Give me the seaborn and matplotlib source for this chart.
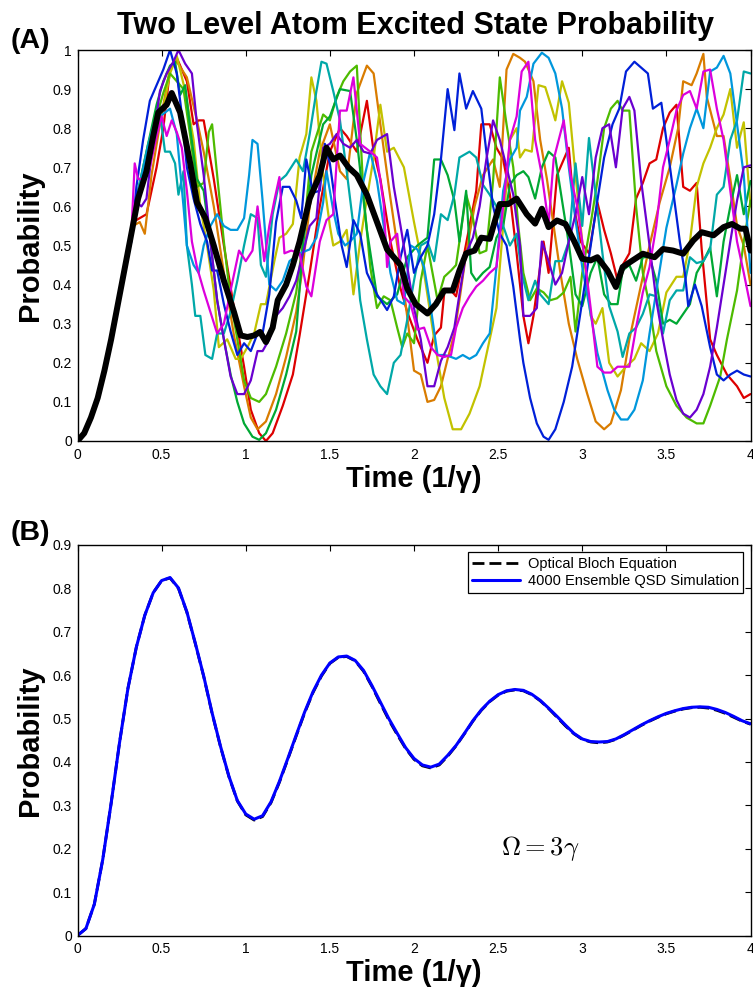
import matplotlib
matplotlib.use("Agg")
import matplotlib.pyplot as plt
import pandas as pd
import seaborn as sns

# ---------------- Panel A data ----------------
start_t = [0.00, 0.04, 0.08, 0.12, 0.16, 0.20, 0.24, 0.28]
start_p = [0.00, 0.02, 0.06, 0.11, 0.18, 0.26, 0.35, 0.44]

red_t = [0.32,0.33,0.37,0.41,0.47,0.51,0.55,0.59,0.65,0.69,0.72,0.75,0.81,0.87,0.93,0.99,1.03,1.08,1.12,1.16,1.22,1.28,1.32,1.38,1.44,1.50,1.56,1.60,1.66,1.72,1.76,1.80,1.86,1.92,1.96,2.02,2.08,2.12,2.16,2.18,2.22,2.25,2.29,2.33,2.37,2.40,2.45,2.49,2.53,2.57,2.61,2.65,2.68,2.71,2.77,2.80,2.85,2.89,2.92,2.95,2.99,3.04,3.09,3.13,3.17,3.21,3.24,3.28,3.32,3.36,3.40,3.44,3.48,3.52,3.56,3.60,3.64,3.68,3.71,3.76,3.80,3.86,3.92,3.96,4.00]
red_p = [0.53,0.56,0.57,0.58,0.70,0.80,0.95,0.98,0.92,0.81,0.82,0.82,0.67,0.50,0.34,0.19,0.08,0.02,0.00,0.02,0.09,0.17,0.27,0.43,0.60,0.74,0.80,0.78,0.74,0.87,0.74,0.67,0.51,0.39,0.33,0.26,0.20,0.27,0.29,0.38,0.385,0.37,0.46,0.55,0.64,0.81,0.81,0.75,0.72,0.63,0.48,0.32,0.25,0.32,0.51,0.43,0.68,0.72,0.75,0.60,0.51,0.48,0.61,0.54,0.48,0.41,0.45,0.48,0.62,0.66,0.71,0.72,0.80,0.84,0.86,0.65,0.64,0.66,0.49,0.26,0.22,0.17,0.14,0.11,0.12]

orange_t = [0.32,0.33,0.37,0.40,0.44,0.49,0.55,0.59,0.65,0.71,0.75,0.81,0.87,0.93,0.99,1.03,1.07,1.12,1.18,1.24,1.30,1.34,1.38,1.44,1.50,1.56,1.60,1.66,1.72,1.76,1.80,1.86,1.94,2.00,2.04,2.08,2.12,2.16,2.20,2.24,2.27,2.31,2.36,2.41,2.47,2.51,2.55,2.59,2.63,2.66,2.71,2.75,2.79,2.83,2.87,2.92,2.97,3.03,3.08,3.13,3.17,3.23,3.28,3.34,3.40,3.46,3.52,3.57,3.60,3.65,3.68,3.72,3.74,3.80,3.84,3.88,3.92,3.96,4.00]
orange_p = [0.53,0.55,0.56,0.53,0.68,0.81,0.955,0.97,0.93,0.82,0.74,0.60,0.43,0.27,0.14,0.06,0.03,0.05,0.12,0.215,0.33,0.45,0.60,0.74,0.81,0.69,0.67,0.89,0.96,0.94,0.81,0.62,0.385,0.18,0.17,0.10,0.105,0.14,0.21,0.275,0.36,0.48,0.60,0.68,0.72,0.65,0.95,0.99,0.98,0.97,0.92,0.77,0.67,0.55,0.43,0.30,0.21,0.12,0.05,0.03,0.045,0.13,0.26,0.38,0.50,0.61,0.70,0.80,0.92,0.91,0.94,0.99,0.88,0.78,0.78,0.67,0.55,0.50,0.40]

yellow_t = [0.32,0.36,0.42,0.47,0.51,0.55,0.59,0.64,0.69,0.73,0.77,0.81,0.84,0.89,0.94,0.97,1.01,1.05,1.09,1.12,1.17,1.20,1.24,1.28,1.32,1.36,1.39,1.42,1.46,1.50,1.52,1.56,1.60,1.64,1.68,1.72,1.76,1.80,1.84,1.88,1.94,2.00,2.06,2.12,2.18,2.23,2.28,2.33,2.39,2.45,2.49,2.53,2.57,2.61,2.63,2.66,2.70,2.74,2.78,2.82,2.84,2.88,2.92,2.96,3.00,3.05,3.08,3.12,3.16,3.21,3.26,3.31,3.35,3.40,3.45,3.50,3.56,3.60,3.64,3.68,3.72,3.76,3.80,3.84,3.88,3.92,3.96,4.00]
yellow_p = [0.53,0.62,0.72,0.80,0.85,0.94,0.985,0.895,0.77,0.60,0.50,0.385,0.24,0.26,0.21,0.21,0.24,0.275,0.35,0.35,0.46,0.52,0.53,0.555,0.725,0.785,0.93,0.87,0.68,0.55,0.50,0.51,0.54,0.375,0.51,0.62,0.725,0.86,0.74,0.75,0.70,0.56,0.43,0.26,0.11,0.03,0.03,0.07,0.14,0.26,0.34,0.55,0.77,0.80,0.725,0.745,0.74,0.91,0.905,0.85,0.82,0.92,0.865,0.68,0.51,0.32,0.30,0.34,0.20,0.165,0.19,0.21,0.25,0.23,0.275,0.38,0.42,0.42,0.51,0.65,0.71,0.75,0.80,0.835,0.90,0.75,0.815,0.60]

lime_t = [0.32,0.36,0.42,0.47,0.51,0.55,0.59,0.63,0.67,0.71,0.75,0.78,0.80,0.83,0.87,0.91,0.95,0.99,1.03,1.08,1.12,1.18,1.24,1.30,1.34,1.39,1.46,1.50,1.54,1.58,1.62,1.66,1.70,1.74,1.78,1.82,1.86,1.90,1.93,1.96,2.00,2.04,2.08,2.14,2.18,2.22,2.25,2.31,2.35,2.39,2.43,2.47,2.51,2.55,2.59,2.62,2.65,2.69,2.73,2.77,2.81,2.85,2.89,2.93,2.96,3.00,3.05,3.09,3.13,3.17,3.21,3.24,3.28,3.32,3.36,3.40,3.44,3.50,3.56,3.62,3.68,3.72,3.76,3.82,3.86,3.92,3.96,4.00]
lime_p = [0.53,0.63,0.74,0.83,0.89,0.94,0.92,0.90,0.78,0.65,0.66,0.79,0.81,0.68,0.51,0.36,0.26,0.155,0.11,0.10,0.12,0.19,0.275,0.38,0.51,0.74,0.835,0.82,0.88,0.92,0.945,0.96,0.63,0.445,0.34,0.37,0.36,0.29,0.24,0.275,0.25,0.41,0.50,0.36,0.42,0.436,0.45,0.63,0.57,0.48,0.487,0.665,0.93,0.81,0.70,0.55,0.43,0.36,0.39,0.38,0.36,0.365,0.38,0.42,0.28,0.43,0.555,0.665,0.80,0.85,0.87,0.845,0.845,0.60,0.43,0.345,0.23,0.14,0.09,0.06,0.045,0.045,0.09,0.165,0.26,0.385,0.51,0.615]

green_t = [0.32,0.36,0.42,0.47,0.51,0.55,0.58,0.61,0.64,0.67,0.71,0.75,0.79,0.83,0.87,0.91,0.95,0.99,1.04,1.08,1.12,1.18,1.24,1.30,1.34,1.39,1.46,1.50,1.56,1.62,1.66,1.72,1.78,1.84,1.90,1.96,2.02,2.08,2.12,2.16,2.20,2.24,2.27,2.31,2.34,2.37,2.41,2.45,2.49,2.53,2.57,2.61,2.65,2.68,2.72,2.76,2.80,2.84,2.88,2.92,2.96,3.00,3.05,3.09,3.13,3.17,3.21,3.24,3.28,3.32,3.36,3.40,3.44,3.48,3.52,3.56,3.60,3.64,3.68,3.72,3.76,3.80,3.84,3.88,3.92,3.96,4.00]
green_p = [0.53,0.64,0.76,0.86,0.92,0.96,0.97,0.885,0.91,0.80,0.67,0.64,0.51,0.36,0.26,0.17,0.10,0.045,0.011,0.003,0.02,0.08,0.17,0.28,0.50,0.68,0.81,0.83,0.90,0.895,0.77,0.54,0.37,0.35,0.375,0.47,0.50,0.52,0.72,0.72,0.68,0.615,0.51,0.64,0.43,0.41,0.43,0.445,0.52,0.55,0.655,0.68,0.69,0.675,0.62,0.70,0.74,0.725,0.615,0.505,0.375,0.345,0.43,0.47,0.375,0.35,0.35,0.436,0.45,0.41,0.47,0.47,0.41,0.30,0.31,0.30,0.325,0.35,0.43,0.46,0.495,0.37,0.51,0.60,0.68,0.58,0.665]

teal_t = [0.32,0.36,0.42,0.46,0.49,0.52,0.55,0.58,0.60,0.63,0.65,0.68,0.70,0.73,0.76,0.80,0.83,0.87,0.91,0.95,0.99,1.03,1.07,1.09,1.12,1.16,1.20,1.24,1.30,1.34,1.38,1.42,1.45,1.48,1.52,1.56,1.60,1.64,1.68,1.72,1.76,1.80,1.84,1.88,1.92,1.96,2.00,2.04,2.08,2.12,2.16,2.20,2.24,2.27,2.33,2.37,2.41,2.45,2.49,2.53,2.57,2.61,2.64,2.68,2.72,2.75,2.80,2.84,2.88,2.92,2.96,3.00,3.04,3.08,3.12,3.16,3.21,3.24,3.28,3.32,3.36,3.40,3.44,3.48,3.52,3.56,3.60,3.64,3.68,3.72,3.76,3.80,3.84,3.88,3.92,3.96,4.00]
teal_p = [0.53,0.64,0.76,0.82,0.84,0.74,0.74,0.71,0.63,0.69,0.50,0.40,0.32,0.32,0.22,0.21,0.275,0.275,0.33,0.41,0.50,0.58,0.57,0.45,0.42,0.58,0.665,0.68,0.72,0.69,0.785,0.895,0.97,0.965,0.895,0.82,0.69,0.55,0.36,0.26,0.17,0.14,0.12,0.20,0.22,0.31,0.41,0.50,0.51,0.46,0.58,0.565,0.63,0.725,0.74,0.725,0.655,0.63,0.60,0.55,0.50,0.53,0.43,0.36,0.41,0.375,0.35,0.46,0.46,0.51,0.71,0.55,0.775,0.63,0.48,0.345,0.28,0.215,0.275,0.29,0.325,0.375,0.37,0.275,0.36,0.385,0.385,0.47,0.455,0.46,0.49,0.63,0.65,0.77,0.82,0.945,0.94]

sky_t = [0.32,0.36,0.42,0.46,0.49,0.55,0.59,0.63,0.65,0.69,0.72,0.75,0.79,0.83,0.87,0.91,0.95,0.99,1.02,1.04,1.07,1.10,1.14,1.18,1.22,1.26,1.32,1.38,1.42,1.46,1.48,1.52,1.55,1.59,1.62,1.66,1.70,1.74,1.78,1.82,1.86,1.90,1.94,1.98,2.02,2.06,2.10,2.14,2.18,2.22,2.25,2.29,2.33,2.37,2.41,2.45,2.49,2.53,2.57,2.61,2.63,2.67,2.71,2.76,2.80,2.84,2.88,2.92,2.96,3.00,3.05,3.09,3.15,3.19,3.23,3.27,3.31,3.36,3.40,3.45,3.50,3.56,3.60,3.64,3.68,3.72,3.76,3.80,3.84,3.88,3.92,3.96,4.00]
sky_p = [0.53,0.63,0.75,0.80,0.83,0.85,0.785,0.60,0.50,0.45,0.43,0.50,0.55,0.58,0.55,0.54,0.54,0.57,0.68,0.77,0.76,0.615,0.40,0.385,0.41,0.46,0.48,0.49,0.52,0.61,0.69,0.59,0.53,0.50,0.51,0.53,0.665,0.74,0.665,0.55,0.43,0.36,0.35,0.50,0.49,0.445,0.34,0.22,0.22,0.215,0.21,0.22,0.21,0.22,0.25,0.275,0.445,0.64,0.72,0.75,0.845,0.88,0.965,0.993,0.98,0.94,0.85,0.70,0.565,0.445,0.325,0.225,0.13,0.08,0.055,0.055,0.08,0.155,0.275,0.41,0.545,0.655,0.735,0.80,0.85,0.80,0.945,0.955,0.985,0.94,0.81,0.68,0.43]

blue_t = [0.32,0.35,0.39,0.43,0.47,0.51,0.55,0.59,0.62,0.65,0.69,0.73,0.77,0.80,0.83,0.87,0.91,0.95,0.99,1.03,1.07,1.10,1.14,1.18,1.22,1.26,1.30,1.33,1.36,1.40,1.44,1.47,1.50,1.53,1.57,1.60,1.64,1.68,1.72,1.78,1.84,1.88,1.92,1.96,2.00,2.04,2.08,2.12,2.16,2.20,2.24,2.27,2.31,2.35,2.40,2.43,2.47,2.51,2.55,2.59,2.63,2.65,2.69,2.73,2.77,2.80,2.84,2.89,2.94,2.99,3.04,3.09,3.13,3.18,3.22,3.26,3.31,3.35,3.39,3.42,3.47,3.50,3.54,3.58,3.61,3.63,3.67,3.71,3.76,3.80,3.84,3.88,3.92,3.96,4.00]
blue_p = [0.51,0.65,0.77,0.87,0.91,0.95,1.00,0.94,0.835,0.70,0.62,0.555,0.51,0.436,0.436,0.35,0.28,0.22,0.25,0.23,0.275,0.275,0.375,0.56,0.65,0.65,0.615,0.57,0.72,0.635,0.64,0.76,0.71,0.615,0.50,0.445,0.565,0.53,0.43,0.375,0.335,0.37,0.47,0.54,0.43,0.47,0.50,0.58,0.72,0.90,0.795,0.94,0.85,0.895,0.85,0.74,0.60,0.53,0.50,0.395,0.26,0.20,0.11,0.045,0.011,0.003,0.03,0.10,0.19,0.33,0.47,0.615,0.725,0.81,0.85,0.945,0.97,0.955,0.94,0.85,0.865,0.77,0.64,0.51,0.43,0.345,0.40,0.345,0.24,0.17,0.155,0.17,0.18,0.17,0.165]

purple_t = [0.32,0.35,0.38,0.41,0.45,0.49,0.53,0.57,0.60,0.64,0.68,0.71,0.75,0.79,0.83,0.87,0.91,0.95,0.99,1.03,1.07,1.10,1.14,1.18,1.22,1.26,1.30,1.34,1.38,1.42,1.46,1.50,1.54,1.58,1.62,1.66,1.70,1.74,1.78,1.84,1.88,1.92,1.96,2.00,2.04,2.08,2.12,2.16,2.20,2.24,2.27,2.31,2.35,2.39,2.43,2.47,2.51,2.55,2.59,2.63,2.65,2.69,2.73,2.76,2.80,2.84,2.88,2.92,2.96,3.00,3.04,3.08,3.12,3.16,3.20,3.24,3.28,3.31,3.35,3.40,3.44,3.48,3.52,3.56,3.60,3.64,3.68,3.72,3.76,3.80,3.84,3.88,3.92,3.96,4.00]
purple_p = [0.53,0.61,0.60,0.62,0.77,0.895,0.94,0.97,1.00,0.965,0.94,0.81,0.68,0.51,0.36,0.26,0.165,0.12,0.12,0.155,0.23,0.23,0.26,0.32,0.34,0.37,0.41,0.48,0.55,0.57,0.75,0.76,0.785,0.76,0.75,0.77,0.74,0.735,0.77,0.785,0.65,0.55,0.445,0.34,0.26,0.14,0.14,0.205,0.24,0.29,0.375,0.48,0.52,0.60,0.72,0.82,0.77,0.70,0.63,0.50,0.32,0.32,0.34,0.51,0.46,0.40,0.43,0.51,0.58,0.675,0.58,0.725,0.80,0.81,0.70,0.85,0.88,0.845,0.665,0.50,0.36,0.26,0.17,0.105,0.07,0.06,0.08,0.12,0.19,0.29,0.40,0.51,0.615,0.70,0.705]

magenta_t = [0.32,0.34,0.36,0.39,0.43,0.47,0.50,0.53,0.56,0.59,0.62,0.65,0.68,0.71,0.75,0.79,0.83,0.87,0.91,0.96,1.00,1.04,1.07,1.11,1.14,1.17,1.20,1.23,1.27,1.32,1.36,1.39,1.44,1.48,1.52,1.56,1.60,1.64,1.68,1.74,1.78,1.82,1.84,1.86,1.90,1.94,1.98,2.02,2.06,2.10,2.14,2.18,2.22,2.25,2.29,2.33,2.37,2.41,2.45,2.49,2.53,2.57,2.61,2.64,2.68,2.72,2.76,2.80,2.83,2.86,2.89,2.93,2.97,3.01,3.05,3.09,3.13,3.17,3.21,3.24,3.28,3.32,3.36,3.40,3.44,3.48,3.52,3.56,3.60,3.64,3.68,3.72,3.76,3.80,3.84,3.88,3.92,3.96,4.00]
magenta_p = [0.53,0.71,0.67,0.67,0.70,0.78,0.83,0.78,0.82,0.79,0.75,0.64,0.51,0.445,0.385,0.33,0.275,0.30,0.385,0.487,0.46,0.487,0.60,0.46,0.55,0.615,0.675,0.48,0.487,0.48,0.395,0.37,0.51,0.565,0.58,0.845,0.845,0.93,0.76,0.74,0.725,0.606,0.445,0.51,0.53,0.37,0.35,0.285,0.29,0.24,0.22,0.215,0.22,0.29,0.34,0.37,0.395,0.41,0.43,0.445,0.60,0.77,0.83,0.945,0.97,0.77,0.68,0.555,0.72,0.77,0.82,0.68,0.60,0.48,0.34,0.19,0.175,0.175,0.19,0.19,0.19,0.29,0.38,0.445,0.55,0.70,0.77,0.845,0.885,0.895,0.85,0.945,0.95,0.85,0.77,0.64,0.51,0.43,0.345]

mean_t = [0.00,0.04,0.08,0.12,0.16,0.20,0.24,0.28,0.32,0.36,0.41,0.45,0.48,0.53,0.56,0.61,0.67,0.71,0.76,0.81,0.87,0.93,0.97,1.01,1.05,1.085,1.12,1.16,1.19,1.24,1.28,1.32,1.38,1.44,1.48,1.52,1.56,1.61,1.66,1.72,1.78,1.84,1.92,1.96,2.01,2.08,2.13,2.18,2.23,2.27,2.31,2.36,2.40,2.45,2.51,2.56,2.61,2.67,2.72,2.76,2.80,2.85,2.90,2.95,3.00,3.05,3.09,3.15,3.20,3.24,3.30,3.36,3.43,3.48,3.54,3.60,3.66,3.71,3.78,3.84,3.89,3.94,3.97,4.00]
mean_p = [0.00,0.02,0.06,0.11,0.18,0.26,0.35,0.44,0.53,0.62,0.69,0.78,0.84,0.86,0.89,0.84,0.71,0.61,0.57,0.50,0.41,0.33,0.27,0.266,0.27,0.279,0.253,0.29,0.36,0.40,0.45,0.51,0.62,0.68,0.75,0.72,0.73,0.70,0.68,0.63,0.56,0.49,0.45,0.39,0.35,0.326,0.35,0.385,0.385,0.436,0.48,0.487,0.52,0.517,0.606,0.606,0.62,0.58,0.556,0.594,0.547,0.564,0.555,0.513,0.466,0.462,0.47,0.436,0.394,0.445,0.462,0.479,0.47,0.491,0.487,0.479,0.513,0.534,0.526,0.547,0.555,0.543,0.543,0.487]

# ---------------- Panel B data ----------------
b_time = [0.00,0.05,0.10,0.15,0.20,0.25,0.30,0.35,0.40,0.45,0.50,0.55,0.60,0.65,0.70,0.75,0.80,0.85,0.90,0.95,
          1.00,1.05,1.10,1.15,1.20,1.25,1.30,1.35,1.40,1.45,1.50,1.55,1.60,1.65,1.70,1.75,1.80,1.85,1.90,1.95,
          2.00,2.05,2.10,2.15,2.20,2.25,2.30,2.35,2.40,2.45,2.50,2.55,2.60,2.65,2.70,2.75,2.80,2.85,2.90,2.95,
          3.00,3.05,3.10,3.15,3.20,3.25,3.30,3.35,3.40,3.45,3.50,3.55,3.60,3.65,3.70,3.75,3.80,3.85,3.90,3.95,4.00]
obe_p = [0.000,0.016,0.072,0.175,0.305,0.445,0.570,0.665,0.738,0.790,0.818,0.824,0.800,0.745,0.673,0.597,0.512,0.435,0.366,0.310,
         0.278,0.266,0.274,0.306,0.353,0.406,0.460,0.513,0.560,0.598,0.627,0.641,0.643,0.633,0.609,0.574,0.535,0.497,0.463,0.431,
         0.406,0.391,0.386,0.393,0.413,0.437,0.465,0.494,0.519,0.539,0.554,0.563,0.566,0.564,0.555,0.541,0.523,0.503,0.483,0.465,
         0.452,0.446,0.444,0.446,0.452,0.462,0.473,0.484,0.494,0.503,0.511,0.517,0.522,0.525,0.526,0.524,0.519,0.512,0.503,0.494,0.487]
qsd_p = [0.000,0.016,0.072,0.175,0.305,0.445,0.570,0.665,0.738,0.790,0.818,0.825,0.801,0.746,0.674,0.598,0.513,0.436,0.367,0.311,
         0.280,0.268,0.276,0.308,0.355,0.408,0.462,0.515,0.562,0.600,0.628,0.642,0.644,0.634,0.611,0.576,0.538,0.500,0.466,0.433,
         0.408,0.393,0.388,0.395,0.415,0.438,0.466,0.495,0.520,0.540,0.555,0.564,0.567,0.565,0.556,0.542,0.524,0.505,0.485,0.466,
         0.453,0.447,0.446,0.447,0.453,0.463,0.474,0.485,0.495,0.504,0.512,0.518,0.523,0.526,0.527,0.526,0.521,0.514,0.505,0.495,0.488]

run_names = ["red", "orange", "yellow", "lime", "green", "teal", "sky", "blue", "purple", "magenta"]
run_t = [red_t, orange_t, yellow_t, lime_t, green_t, teal_t, sky_t, blue_t, purple_t, magenta_t]
run_p = [red_p, orange_p, yellow_p, lime_p, green_p, teal_p, sky_p, blue_p, purple_p, magenta_p]
run_colors = {"red": "#dd0000", "orange": "#d97c00", "yellow": "#c2c200", "lime": "#4dbb00",
              "green": "#00a834", "teal": "#00a8a8", "sky": "#0097dc", "blue": "#0020d8",
              "purple": "#6a00d0", "magenta": "#dc00dc"}

# ---------------- style ----------------
sns.set_theme(style="white")
plt.rcParams["font.family"] = ["Liberation Sans", "DejaVu Sans"]
plt.rcParams["mathtext.fontset"] = "cm"
plt.rcParams["axes.edgecolor"] = "black"
plt.rcParams["axes.linewidth"] = 1.0
plt.rcParams["text.color"] = "black"
plt.rcParams["axes.labelcolor"] = "black"
plt.rcParams["xtick.color"] = "black"
plt.rcParams["ytick.color"] = "black"

rows = []
for name, ts, ps in zip(run_names, run_t, run_p):
    n = min(len(ts), len(ps))
    full_t = start_t + list(ts[:n])
    full_p = start_p + list(ps[:n])
    for k, (a, b) in enumerate(zip(full_t, full_p)):
        rows.append({"run": name, "order": k, "t": a, "p": b})
df_runs = pd.DataFrame(rows)
df_mean = pd.DataFrame({"t": mean_t[:len(mean_p)], "p": mean_p[:len(mean_t)]})
df_b = pd.DataFrame({"t": b_time, "obe": obe_p, "qsd": qsd_p})

fig = plt.figure(figsize=(7.53, 9.92), dpi=100)
W, H = 753.0, 992.0
axA = fig.add_axes([77.5 / W, (H - 441) / H, 673 / W, 391 / H])
axB = fig.add_axes([77.5 / W, (H - 935.5) / H, 673 / W, 390.5 / H])

# Panel A
sns.lineplot(data=df_runs, x="t", y="p", hue="run", hue_order=run_names, palette=run_colors,
             units="run", estimator=None, sort=False, legend=False, lw=1.6, ax=axA)
sns.lineplot(data=df_mean, x="t", y="p", color="black", lw=4.3, sort=False,
             estimator=None, ax=axA)

# Panel B
sns.lineplot(data=df_b, x="t", y="obe", color="black", lw=2.0, dashes=False,
             estimator=None, ax=axB, label="Optical Bloch Equation")
axB.lines[-1].set_dashes((4.3, 1.8))
sns.lineplot(data=df_b, x="t", y="qsd", color="#0000ff", lw=2.2,
             estimator=None, ax=axB, label="4000 Ensemble QSD Simulation")

a_yticks = [0, 0.1, 0.2, 0.3, 0.4, 0.5, 0.6, 0.7, 0.8, 0.9, 1.0]
a_ylabels = ["0", "0.1", "0.2", "0.3", "0.4", "0.5", "0.6", "0.7", "0.8", "0.9", "1"]
b_yticks = [0, 0.1, 0.2, 0.3, 0.4, 0.5, 0.6, 0.7, 0.8, 0.9]
b_ylabels = ["0", "0.1", "0.2", "0.3", "0.4", "0.5", "0.6", "0.7", "0.8", "0.9"]
xticks = [0, 0.5, 1, 1.5, 2, 2.5, 3, 3.5, 4]
xlabels = ["0", "0.5", "1", "1.5", "2", "2.5", "3", "3.5", "4"]

for ax, yt, yl, ytop in [(axA, a_yticks, a_ylabels, 1.0), (axB, b_yticks, b_ylabels, 0.9)]:
    ax.set_xlim(0, 4)
    ax.set_ylim(0, ytop)
    ax.set_xticks(xticks)
    ax.set_xticklabels(xlabels)
    ax.set_yticks(yt)
    ax.set_yticklabels(yl)
    ax.tick_params(direction="in", top=True, right=True, length=4.5, width=0.8,
                   labelsize=10, colors="black")
    ax.tick_params(axis="x", pad=5.0)
    ax.tick_params(axis="y", pad=4.0)
    for s in ax.spines.values():
        s.set_color("black")
        s.set_linewidth(1.0)
    ax.set_facecolor("white")
    ax.set_xlabel("Time (1/\u03b3)", fontsize=21, fontweight="bold", color="black")
    ax.set_ylabel("Probability", fontsize=21, fontweight="bold", color="black")
    ax.yaxis.label.set_va("center")
    ax.xaxis.label.set_va("center")
    ax.yaxis.set_label_coords(-0.0706, 0.5)

axA.xaxis.set_label_coords(0.5, -0.097)
axB.xaxis.set_label_coords(0.5, -0.095)

leg = axB.legend(loc="upper right", fontsize=10.5, frameon=True, fancybox=False,
                 framealpha=1.0, edgecolor="black", handlelength=3.3, borderaxespad=0.5,
                 borderpad=0.3, labelspacing=0.25, handletextpad=0.5)
leg.get_frame().set_linewidth(0.9)
for txt in leg.get_texts():
    txt.set_color("black")

axB.text(0.687, 0.224, r"$\Omega = 3\gamma$", transform=axB.transAxes, fontsize=19,
         ha="center", va="center", color="black")

fig.text(416 / W, 1 - 34 / H, "Two Level Atom Excited State Probability", fontsize=22,
         fontweight="bold", ha="center", va="baseline", color="black")
fig.text(11 / W, 1 - 48 / H, "(A)", fontsize=20.5, fontweight="bold", ha="left",
         va="baseline", color="black")
fig.text(11 / W, 1 - 540 / H, "(B)", fontsize=20.5, fontweight="bold", ha="left",
         va="baseline", color="black")

fig.savefig("out.png", dpi=100, facecolor="white")
